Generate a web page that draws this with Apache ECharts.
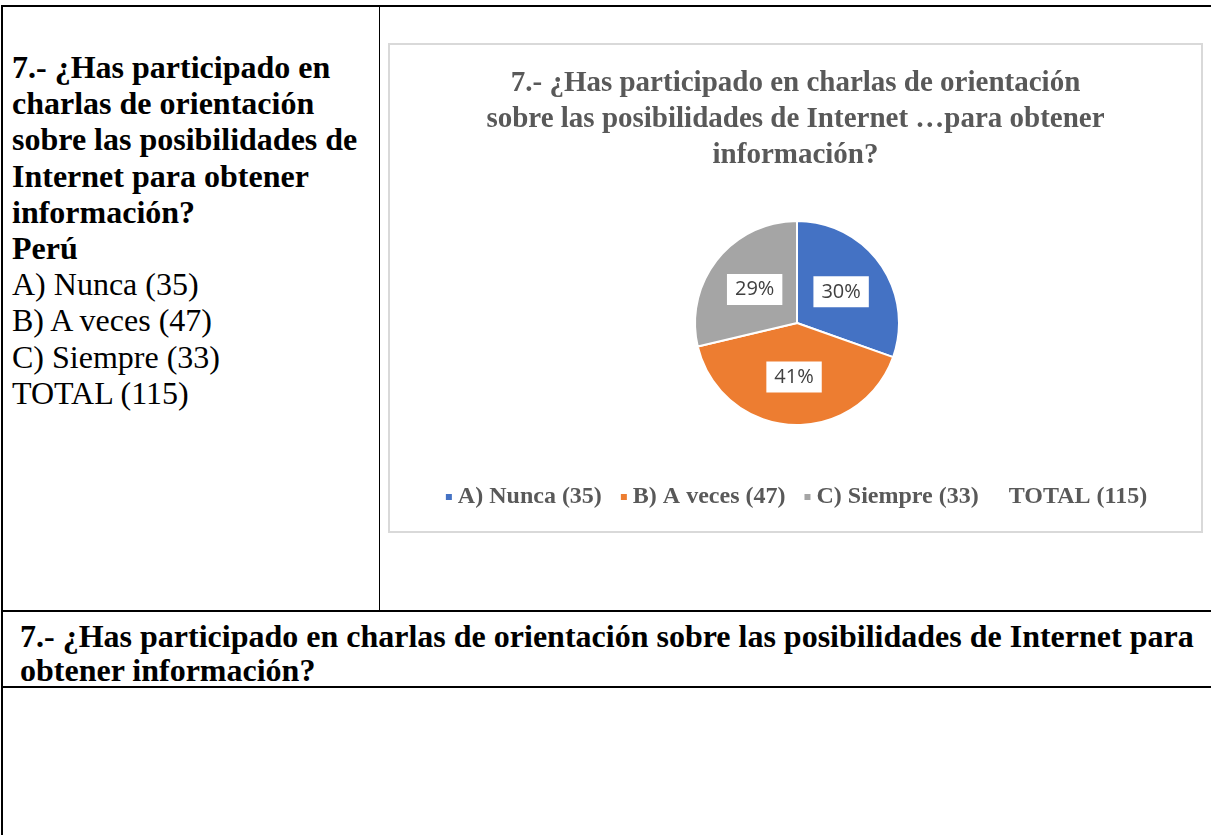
<!DOCTYPE html>
<html>
<head>
<meta charset="utf-8">
<script src="https://cdn.jsdelivr.net/npm/echarts@6/dist/echarts.min.js"></script>
<style>
  body { margin: 0; background: #fff; width: 1211px; height: 835px; overflow: hidden; position: relative; font-family: "Liberation Serif", "Times New Roman", serif; color: #000; }
  .ln { position: absolute; background: #000; }
  #left { position: absolute; left: 12px; top: 49px; font-size: 32px; line-height: 36.2px; }
  #left b { font-weight: bold; }
  #row2 { position: absolute; left: 20px; top: 619px; font-size: 32px; line-height: 34px; font-weight: bold; white-space: nowrap; }
  #chart { position: absolute; left: 388px; top: 43px; width: 811px; height: 486px; border: 2px solid #d9d9d9; }
</style>
</head>
<body>
<div class="ln" style="left:1px;top:5px;width:1210px;height:2px"></div>
<div class="ln" style="left:1px;top:5px;width:2px;height:830px"></div>
<div class="ln" style="left:379px;top:5px;width:1px;height:606px"></div>
<div class="ln" style="left:1px;top:610px;width:1210px;height:2px"></div>
<div class="ln" style="left:1px;top:686px;width:1210px;height:2px"></div>

<div id="left">
  <b>7.- ¿Has participado en<br>charlas de orientación<br>sobre las posibilidades de<br>Internet para obtener<br>información?<br>Perú</b><br>
  A) Nunca (35)<br>B) A veces (47)<br>C) Siempre (33)<br>TOTAL (115)
</div>

<div id="row2">7.- ¿Has participado en charlas de orientación sobre las posibilidades de Internet para<br>obtener información?</div>

<div id="chart"></div>

<script>
// categories and values
const categories = ['A) Nunca (35)', 'B) A veces (47)', 'C) Siempre (33)', 'TOTAL (115)'];
const values = [35, 47, 33, 0];
const colors = ['#4472C4', '#ED7D31', '#A5A5A5', '#ffffff'];

const titleText = '7.- ¿Has participado en charlas de orientación\nsobre las posibilidades de Internet …para obtener\ninformación?';

const options = {
    animation: false,
    title: {
        text: titleText,
        left: 'center',
        top: 16,
        textStyle: {
            fontFamily: '"Liberation Serif", serif',
            fontWeight: 'bold',
            fontSize: 29,
            lineHeight: 36,
            color: '#595959'
        }
    },
    legend: {
        bottom: 17,
        left: 'center',
        itemWidth: 8,
        itemHeight: 8,
        itemGap: 17,
        icon: 'rect',
        data: categories.map((c, i) => (i === 3 ? { name: c, icon: 'none' } : { name: c })),
        textStyle: {
            fontFamily: '"Liberation Serif", serif',
            fontWeight: 'bold',
            fontSize: 24,
            color: '#595959'
        }
    },
    series: [
        {
            type: 'pie',
            center: [407, 278],
            radius: 102,
            startAngle: 90,
            clockwise: true,
            percentPrecision: 0,
            itemStyle: {
                borderColor: '#fff',
                borderWidth: 2
            },
            label: {
                show: true,
                position: 'inside',
                formatter: '{d}%',
                fontFamily: '"Open Sans", "Noto Sans", sans-serif',
                fontSize: 20,
                color: '#404040',
                backgroundColor: '#fff',
                padding: [6, 8, 5, 8]
            },
            labelLine: { show: false },
            emphasis: { disabled: true },
            data: categories.map((c, i) => ({
                name: c,
                value: values[i],
                itemStyle: { color: colors[i] },
                label: { show: i < 3 }
            }))
        }
    ]
};

const chart = echarts.init(document.getElementById('chart'));
chart.setOption(options);
</script>
</body>
</html>
